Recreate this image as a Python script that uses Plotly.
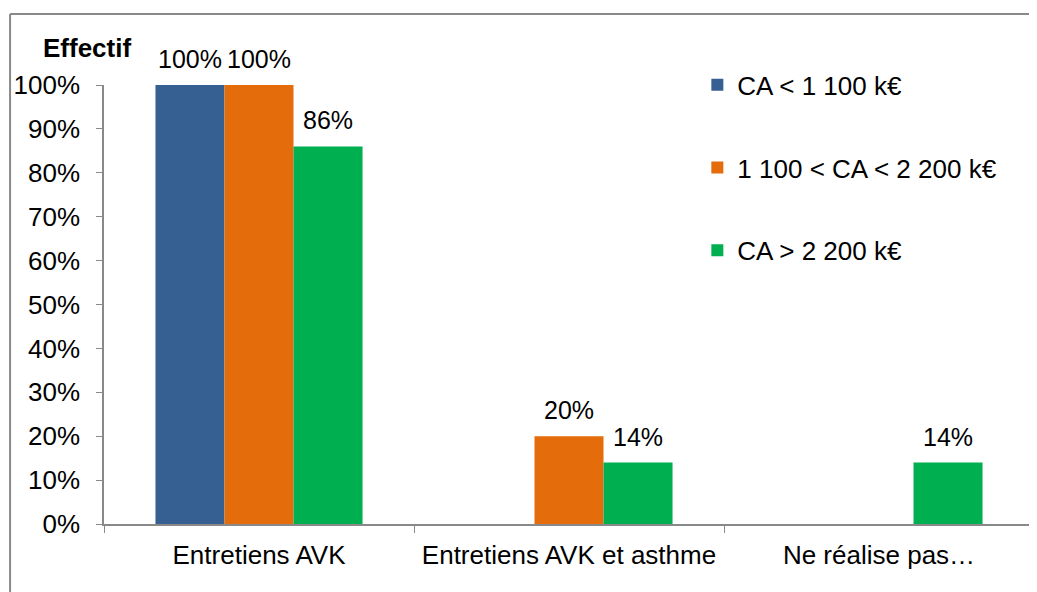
import plotly.graph_objects as go

categories = ["Entretiens AVK", "Entretiens AVK et asthme", "Ne réalise pas…"]
series_names = ["CA < 1 100 k€", "1 100 < CA < 2 200 k€", "CA > 2 200 k€"]
ca_low = [1.00, None, None]
ca_mid = [1.00, 0.20, None]
ca_high = [0.86, 0.14, 0.14]
colors = ["#366092", "#E46C0A", "#00B050"]
y_ticks = [0, 0.1, 0.2, 0.3, 0.4, 0.5, 0.6, 0.7, 0.8, 0.9, 1.0]

FONT = "Liberation Sans, Arial, sans-serif"
AXIS_GRAY = "#898989"
FS = 26
PLOT_W = 930
BARGAP = 0.332
bar_px = PLOT_W / len(categories) * (1 - BARGAP) / len(series_names)

fig = go.Figure()
for i, (name, vals) in enumerate(zip(series_names, [ca_low, ca_mid, ca_high])):
    fig.add_trace(go.Bar(
        x=categories, y=vals, name=name,
        marker_color=colors[i], marker_line_width=0,
        legendgroup=f"g{i}",
    ))
    # value labels above each bar
    for cat, v in zip(categories, vals):
        if v is None:
            continue
        fig.add_annotation(x=cat, y=v, text=f"{v:.0%}", showarrow=False,
                           xshift=(i - 1) * bar_px, yshift=10,
                           yanchor="bottom", xanchor="center",
                           font=dict(size=25, family=FONT, color="black"))

# page body adds an 8px offset, margins compensate for it
fig.update_layout(
    width=1037, height=592,
    margin=dict(l=96, r=11, t=77, b=76),
    paper_bgcolor="white", plot_bgcolor="white",
    barmode="group", bargap=BARGAP, bargroupgap=0,
    font=dict(family=FONT, size=FS, color="black"),
    legend=dict(x=0.638, y=1.054, xanchor="left", yanchor="top",
                tracegroupgap=46, font=dict(size=FS),
                bgcolor="rgba(0,0,0,0)", itemwidth=30),
    xaxis=dict(showline=True, linecolor=AXIS_GRAY, linewidth=1.5,
               ticks="outside", tickson="boundaries", ticklen=7,
               tickcolor=AXIS_GRAY, showgrid=False, automargin=False,
               ticklabelstandoff=7, tickfont=dict(size=FS)),
    yaxis=dict(range=[0, 1], tickvals=y_ticks, tickformat=".0%",
               showline=True, linecolor=AXIS_GRAY, linewidth=1.5,
               ticks="outside", ticklen=6, tickcolor=AXIS_GRAY,
               showgrid=False, zeroline=False, ticklabelstandoff=11,
               automargin=False, tickfont=dict(size=FS)),
    showlegend=True,
)

fig.add_annotation(text="<b>Effectif</b>", xref="paper", yref="paper",
                   x=-0.0188, y=1.084, xanchor="center", yanchor="middle",
                   showarrow=False, font=dict(size=FS, family=FONT))

# chart frame (left and top edges visible)
fig.add_shape(type="line", xref="paper", yref="paper",
              x0=-0.101, x1=1.2, y0=1.162, y1=1.162,
              line=dict(color=AXIS_GRAY, width=2))
fig.add_shape(type="line", xref="paper", yref="paper",
              x0=-0.101, x1=-0.101, y0=-0.5, y1=1.162,
              line=dict(color=AXIS_GRAY, width=2))

fig.write_html("out.html")
